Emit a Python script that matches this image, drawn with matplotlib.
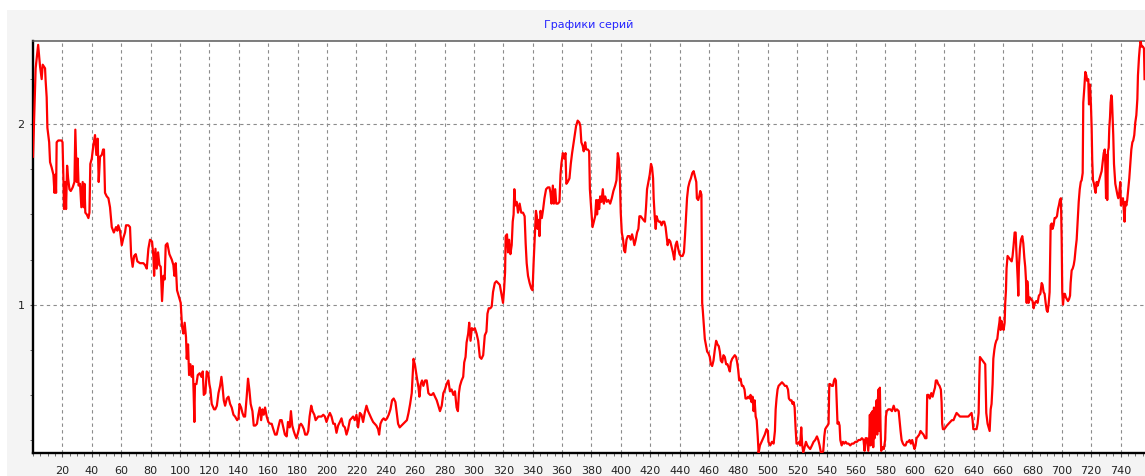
import numpy as np
import matplotlib
matplotlib.use("Agg")
import matplotlib.pyplot as plt
from matplotlib.patches import Rectangle
from matplotlib.ticker import MultipleLocator

# Werte, in Abschnitte geteilt
bars_a = [0, 1.8, 3.5, 4.8, 5.9, 6.6, 8.2, 8.6, 9.3, 9.8, 11, 11.6, 12.7, 13.9, 14.6, 15.2, 15.7, 16.1,
          17.2, 19.5, 20.1, 20.7, 21.1, 22, 22.5, 23.2, 23.9, 24.8, 25.7, 27, 28.2, 28.8, 29.8, 30.4,
          31, 32, 32.9, 33.8, 34.5, 35, 35.6, 36.6, 37.7, 38.4, 39, 40, 41, 42.2, 43.1, 44, 44.7, 45.6,
          46.8, 47.7, 48.3, 49, 50.2, 51.3, 52.4, 53.6, 55, 56.5, 57.4, 58, 59.2, 60.4, 61.5, 62.6, 63.3,
          64.9, 66, 66.8, 67.8, 68.8, 69.9, 71, 72.8, 75.1, 76.2, 77.4, 78.5, 79.6, 81, 81.9, 82.4, 83.3,
          84.2, 85.1, 86, 86.9, 87.8, 88.7, 89.6, 90.3, 91.4, 92.8, 94.4, 95.5, 96.2, 97.1, 98, 99.1,
          100.5, 101.4, 102.3, 103.2, 104.1, 104.6, 105.5, 106.2, 107.1, 108, 108.7, 109.3, 109.8, 110.2,
          111.2, 112.1, 113.4, 114.6, 115.5, 116.2, 117.3, 118.2, 119.3, 120, 120.7, 121.6, 123.2]
vals_a = [1.82, 2.31, 2.44, 2.32, 2.25, 2.33, 2.31, 2.24, 2.15, 1.98, 1.90, 1.79, 1.76, 1.72, 1.62, 1.72, 1.62, 1.90,
          1.91, 1.91, 1.90, 1.70, 1.53, 1.68, 1.53, 1.77, 1.70, 1.64, 1.63, 1.65, 1.68, 1.97, 1.68, 1.81,
          1.66, 1.67, 1.54, 1.68, 1.54, 1.67, 1.51, 1.50, 1.48, 1.51, 1.78, 1.81, 1.88, 1.94, 1.83, 1.92, 1.68, 1.82,
          1.83, 1.86, 1.86, 1.62, 1.60, 1.59, 1.54, 1.43, 1.40, 1.43, 1.41, 1.44, 1.41, 1.33, 1.37, 1.40, 1.44,
          1.44, 1.43, 1.27, 1.21, 1.27, 1.28, 1.24, 1.23, 1.23, 1.22, 1.20, 1.31, 1.36, 1.35, 1.27, 1.16, 1.31,
          1.20, 1.29, 1.22, 1.21, 1.02, 1.16, 1.14, 1.33, 1.34, 1.28, 1.25, 1.22, 1.16, 1.23, 1.08, 1.05,
          1.01, 0.88, 0.84, 0.90, 0.82, 0.70, 0.78, 0.61, 0.67, 0.60, 0.66, 0.51, 0.35, 0.56,
          0.56, 0.61, 0.62, 0.60, 0.63, 0.50, 0.51, 0.63, 0.62, 0.56, 0.53, 0.45, 0.42]

bars_b = [124, 125.1, 126.2, 127.3, 128.2, 128.9, 129.8, 130.7, 131.9, 133, 134.1, 135.2, 136.4, 137.5, 138.9,
          139.8, 140.5, 141.6, 142.5, 143.4, 144.3, 145.4, 146.3, 147.2, 148.1, 149.3, 150.2, 151.3, 152.4,
          153.3, 154.3, 155.2, 156.1, 157, 157.9, 159, 160.1, 161.3, 162.4, 163.5, 164.7, 165.8, 166.9, 168.1,
          169.2, 170.3, 171.4, 172.6, 173.5, 174.6, 175.5, 176.4, 177.4, 178.2, 179.2, 180.3, 181.4, 182.3,
          183.2, 184.3, 185.2, 186.4, 187.3, 188.2, 189.3, 190.2, 191.4, 192.3, 193.2, 194.1, 195.2, 196.3,
          197.5, 198.6, 199.7, 200.9, 202, 203.1, 204.3, 205.4, 206.5, 207.6, 208.8, 209.9, 211, 212.2, 213.3,
          214.4, 215.6, 216.7, 217.8, 218.9, 220.1, 221.2, 222.4, 223.5, 224.6, 225.7, 226.9, 228, 229.1,
          230.2, 231.4, 232.5, 233.6, 234.8, 235.5, 236.4, 237.5, 238.6, 239.8, 240.9, 242, 243.2, 244.3,
          245.4, 246.6, 247.5, 248.4, 249.5]
vals_b = [0.42, 0.44, 0.51, 0.55, 0.60, 0.55, 0.47, 0.44, 0.48, 0.49, 0.45, 0.43, 0.39, 0.38, 0.36,
          0.37, 0.45, 0.43, 0.40, 0.38, 0.38, 0.49, 0.59, 0.53, 0.45, 0.41, 0.33, 0.33, 0.34,
          0.39, 0.43, 0.36, 0.42, 0.39, 0.43, 0.38, 0.35, 0.34, 0.34, 0.31, 0.28, 0.28, 0.32, 0.36,
          0.36, 0.32, 0.28, 0.27, 0.35, 0.32, 0.41, 0.33, 0.30, 0.28, 0.26, 0.29, 0.33, 0.34,
          0.33, 0.31, 0.28, 0.28, 0.30, 0.38, 0.44, 0.41, 0.39, 0.36, 0.37, 0.38, 0.38, 0.38,
          0.39, 0.38, 0.35, 0.38, 0.40, 0.38, 0.34, 0.34, 0.29, 0.33, 0.35, 0.37, 0.33, 0.32, 0.28,
          0.31, 0.36, 0.37, 0.38, 0.36, 0.39, 0.32, 0.40, 0.39, 0.35, 0.40, 0.44, 0.41, 0.39,
          0.37, 0.35, 0.34, 0.33, 0.31, 0.28, 0.34, 0.36, 0.37, 0.36, 0.37, 0.39, 0.42, 0.47,
          0.48, 0.46, 0.40, 0.34, 0.32]

bars_c = [252, 254.4, 255.5, 256.6, 257.7, 258.9, 260, 261.1, 262.3, 262.9, 263.8, 264.7, 265.6, 266.8,
          267.9, 269, 270.2, 271.3, 272.4, 273.5, 274.7, 275.8, 276.9, 278.1, 279.2, 280.3, 281.4, 282.6,
          283.7, 284.8, 286, 287.1, 288.2, 289.1, 289.8, 290.5, 291.6, 292.7, 293.4, 294.3, 295, 296.1,
          296.8, 297.7, 298.6, 299.5, 300.6, 301.8, 302.9, 304, 305.1, 306.3, 307.4, 308.5, 309.2, 310.1,
          311.2, 312.1, 313, 314.2, 315.3, 316.4, 317.6, 318.5, 319.4, 319.8, 320.5, 321.2, 321.6, 322.5,
          323.2, 323.9, 324.8, 325.7, 326.4, 327, 327.5, 328.2, 329.1, 330, 331.1, 332.2, 333.4, 334.5,
          335.2, 335.9, 336.8, 337.9, 339, 339.9, 340.6, 341.5, 342.2, 342.8, 343.3, 344, 344.6, 345.3,
          346.2, 347.1, 348, 349.1, 350.3, 351.4, 352.1, 352.8, 353.7, 354.4, 355.3, 356, 357.1, 358.2,
          358.9, 359.5, 360.5, 361.4, 362.3, 362.9, 363.8, 365, 365.9, 366.8, 367.7, 368.6, 369.5, 370.6,
          371.7, 372.4, 373.1, 374, 374.7]
vals_c = [0.34, 0.36, 0.40, 0.45, 0.51, 0.70, 0.66, 0.60, 0.54, 0.49, 0.56, 0.58, 0.55, 0.58,
          0.58, 0.51, 0.50, 0.50, 0.51, 0.49, 0.47, 0.44, 0.41, 0.44, 0.51, 0.53, 0.56, 0.58,
          0.52, 0.53, 0.50, 0.52, 0.43, 0.41, 0.51, 0.55, 0.58, 0.60, 0.68, 0.71, 0.79, 0.84,
          0.90, 0.80, 0.87, 0.86, 0.87, 0.84, 0.80, 0.71, 0.70, 0.72, 0.83, 0.85, 0.95, 0.98,
          0.98, 0.99, 1.07, 1.12, 1.13, 1.12, 1.11, 1.07, 1.03, 1.01, 1.08, 1.18, 1.38, 1.39,
          1.29, 1.36, 1.28, 1.33, 1.46, 1.50, 1.64, 1.55, 1.57, 1.51, 1.56, 1.51, 1.51, 1.49,
          1.34, 1.23, 1.16, 1.12, 1.09, 1.08, 1.23, 1.40, 1.52, 1.49, 1.42, 1.47, 1.38, 1.52,
          1.48, 1.53, 1.59, 1.64, 1.65, 1.65, 1.62, 1.56, 1.66, 1.56, 1.64, 1.56, 1.56, 1.57,
          1.72, 1.78, 1.84, 1.81, 1.84, 1.67, 1.68, 1.70, 1.78, 1.84, 1.89, 1.94, 1.99, 2.02,
          2.01, 1.99, 1.90, 1.88, 1.85]

bars_d = [375.7, 376.4, 377.5, 378.4, 378.9, 379.8, 380.7, 381.6, 382.5, 383.2, 383.8, 384.5, 385.2, 385.9,
          386.8, 387.7, 388.4, 389.3, 390.4, 391.5, 392.7, 393.8, 394.9, 396.1, 397, 397.9, 398.6, 399.3,
          399.9, 400.6, 401.5, 402.2, 402.9, 403.8, 404.7, 405.8, 406.7, 407.6, 408.5, 409.2, 410.1, 411,
          411.9, 412.6, 413.5, 414.4, 415.3, 416.4, 417.1, 417.8, 418.7, 419.6, 420.5, 421.2, 421.9, 422.3,
          423, 423.7, 424.3, 425, 425.9, 426.8, 427.7, 428.6, 429.5, 430.4, 431.1, 431.8, 432.7, 433.6,
          434.5, 435.4, 436.3, 437.2, 438.1, 439, 439.9, 440.8, 442, 442.9, 443.6, 444.3, 445, 445.8,
          446.7, 447.6, 448.6, 449.5, 450.4, 451.3, 451.7, 452.6, 453.3, 454, 454.8, 455.3, 455.7, 456.5,
          457.1, 458, 458.7, 459.6, 460.5, 461.2, 462.1, 463, 463.9, 464.8, 465.7, 466.6, 467.3, 468,
          468.9, 469.8, 470.7, 471.6, 472.5, 473.4, 474.1, 474.8, 475.7, 476.6, 477.5, 478.4, 479.1,
          479.8, 480.5, 481.4, 482.3, 483.2, 484.1, 484.8, 485.7, 486.6, 487.6, 488.2, 488.9, 489.6,
          490.3, 491, 491.7, 492.4, 493.1, 493.7, 494.6, 495.7, 496.8, 497.9, 499.1, 500, 500.4]
vals_d = [1.90, 1.86, 1.86, 1.85, 1.64, 1.53, 1.43, 1.46, 1.49, 1.58, 1.50, 1.58, 1.53, 1.60,
          1.57, 1.64, 1.56, 1.60, 1.57, 1.58, 1.56, 1.59, 1.63, 1.66, 1.69, 1.84, 1.81, 1.70,
          1.51, 1.40, 1.36, 1.30, 1.29, 1.36, 1.38, 1.38, 1.36, 1.39, 1.36, 1.33, 1.36, 1.40,
          1.42, 1.49, 1.49, 1.48, 1.47, 1.46, 1.54, 1.64, 1.68, 1.72, 1.78, 1.76, 1.70, 1.59,
          1.49, 1.42, 1.49, 1.47, 1.46, 1.46, 1.44, 1.46, 1.46, 1.43, 1.38, 1.33, 1.36, 1.35,
          1.32, 1.29, 1.25, 1.33, 1.35, 1.31, 1.28, 1.27, 1.27, 1.29, 1.38, 1.49, 1.59, 1.65,
          1.68, 1.70, 1.73, 1.74, 1.71, 1.68, 1.59, 1.58, 1.60, 1.63, 1.61, 1.01, 0.97, 0.88,
          0.81, 0.77, 0.74, 0.73, 0.71, 0.67, 0.66, 0.69, 0.75, 0.80, 0.78, 0.77, 0.74, 0.69,
          0.68, 0.72, 0.71, 0.67, 0.67, 0.65, 0.63, 0.68, 0.70, 0.71, 0.72, 0.71, 0.68,
          0.64, 0.58, 0.59, 0.55, 0.55, 0.53, 0.48, 0.48, 0.49, 0.48, 0.50, 0.46, 0.49,
          0.41, 0.47, 0.38, 0.36, 0.27, 0.18, 0.22, 0.24, 0.26, 0.28, 0.31, 0.30, 0.24]

bars_e = [501.6, 502.8, 503.9, 504.8, 505.3, 505.9, 506.6, 507.3, 508.4, 509.6, 510.7, 511.6, 512.7, 513.7,
          514.3, 515.2, 516.1, 516.8, 517.5, 518.2, 518.9, 519.5, 520.5, 521.4, 522, 522.7, 523.4, 524.1,
          525, 525.9, 526.8, 527.7, 528.8, 530, 531.1, 532.2, 533.4, 534.3, 535.2, 536.1, 537, 537.7, 538.4,
          539, 539.7, 540.6, 541.3, 541.8, 542.4, 543.4, 544.3, 545, 545.6, 546.3, 546.8, 547.4, 548.1,
          548.8, 549.3, 550.2, 551.1, 552, 552.9, 553.8, 554.9, 556, 557.2, 558.3, 559.5, 560.6, 561.7,
          562.9, 564, 565.1, 565.8, 566.5, 567.4, 568.3, 569, 569.4, 569.9, 570.3, 570.8, 571.2, 571.7,
          572.2, 572.6, 573.1, 573.5, 574, 574.4, 574.9, 575.3, 575.8, 576.2, 576.7, 577.1, 578, 578.9,
          579.8, 580.3, 580.9, 582, 583.3, 584.4, 585.6, 586.7, 587.8, 589, 589.6, 590.3, 591, 591.9,
          592.8, 593.7, 594.6, 595.5, 596.4, 597.3, 598.2, 599.1, 599.8, 600.5, 601.2, 602.1, 603, 603.9,
          604.8, 605.9, 607, 607.9, 608.4, 609.3, 610.2, 611.2, 612.1, 613, 613.7, 614.3, 615, 615.9,
          616.8, 617.7, 618.2, 618.6, 619.1, 620, 620.9, 621.8, 622.9, 624.1, 625.2, 626.3]
vals_e = [0.22, 0.24, 0.23, 0.30, 0.42, 0.48, 0.53, 0.55, 0.56, 0.57, 0.56, 0.55, 0.55, 0.53,
          0.48, 0.47, 0.47, 0.45, 0.46, 0.43, 0.31, 0.23, 0.23, 0.24, 0.22, 0.32, 0.22, 0.18,
          0.21, 0.24, 0.22, 0.21, 0.20, 0.22, 0.24, 0.25, 0.27, 0.25, 0.22, 0.18, 0.18, 0.19, 0.27,
          0.31, 0.32, 0.33, 0.34, 0.56, 0.56, 0.55, 0.55, 0.58, 0.59, 0.58, 0.47, 0.34, 0.35,
          0.33, 0.25, 0.22, 0.24, 0.23, 0.24, 0.23, 0.23, 0.22, 0.23, 0.23, 0.24, 0.24, 0.25,
          0.25, 0.26, 0.25, 0.19, 0.26, 0.26, 0.19, 0.27, 0.39, 0.22, 0.40, 0.27, 0.41, 0.21,
          0.43, 0.26, 0.41, 0.30, 0.47, 0.28, 0.48, 0.53, 0.30, 0.54, 0.31, 0.19, 0.21, 0.20,
          0.25, 0.38, 0.41, 0.42, 0.42, 0.41, 0.44, 0.41, 0.42, 0.41, 0.36, 0.30, 0.25, 0.23,
          0.22, 0.22, 0.24, 0.24, 0.25, 0.23, 0.25, 0.22, 0.20, 0.22, 0.26, 0.27, 0.28, 0.30,
          0.29, 0.28, 0.26, 0.26, 0.50, 0.50, 0.48, 0.51, 0.49, 0.52, 0.54, 0.58, 0.58, 0.56,
          0.55, 0.53, 0.46, 0.34, 0.31, 0.31, 0.32, 0.33, 0.34, 0.35, 0.36, 0.36]

bars_f = [627.3, 628.4, 629.6, 630.7, 631.8, 632.9, 634.1, 635.2, 636.4, 637.5, 638.6, 639.3, 639.8, 640.9,
          642, 642.7, 643.4, 643.9, 644.3, 645.2, 646.1, 647, 647.9, 648.6, 649.5, 650.2, 650.9, 651.6,
          652.2, 652.9, 653.4, 654.1, 654.7, 655.4, 656.1, 656.8, 657.5, 657.9, 658.4, 659, 659.7, 660.4,
          661.1, 661.5, 662, 662.4, 663.1, 664, 664.9, 665.9, 666.5, 667.2, 667.9, 668.6, 669, 669.5, 670,
          670.4, 670.8, 671.5, 672.2, 673.1, 673.8, 674.5, 675.1, 675.6, 676.1, 676.5, 677, 677.4, 678.3,
          679.2, 680.1, 680.8, 681.7, 682.6, 683.5, 684.4, 685.4, 686.3, 686.9, 687.6, 688.3, 689, 689.7,
          690.3, 691, 691.7, 692.4, 693.1, 693.7, 694.4, 695.1, 695.8, 696.7, 697.4, 698, 698.7, 699.4,
          699.9, 700.3, 700.8, 701.5, 702.1, 702.8, 703.5, 704.2, 704.9, 705.6, 706, 706.7, 707.4, 708.1,
          708.7, 709.4, 710.1, 710.8, 711.5, 712.2, 712.9, 713.5, 714.2, 714.6, 715.3, 716, 716.7, 717.3,
          718, 718.5, 719.2, 719.8, 720.3, 720.7, 721.2, 721.9, 722.5, 723, 723.7, 724.4, 725, 725.7,
          726.4, 727.1, 727.8, 728.5, 729.2, 729.6, 730.1, 730.5, 730.9, 731.4, 731.9, 732.3, 732.8, 733.2,
          733.7, 734.1, 734.6, 735, 735.5, 735.9, 736.4, 737.1, 737.8, 738.4, 739.1, 739.8, 740.2, 740.9,
          741.6, 742.2, 742.7, 743.2, 743.9, 744.5, 745.2, 745.9, 746.6, 747.3, 748, 748.6, 749.3, 750,
          750.7, 751.4, 751.8, 752.5, 753, 753.6, 754.3, 755.2, 755.9, 756.3]
vals_f = [0.38, 0.40, 0.39, 0.38, 0.38, 0.38, 0.38, 0.38, 0.38, 0.39, 0.40, 0.36, 0.31, 0.31,
          0.31, 0.34, 0.40, 0.60, 0.71, 0.70, 0.69, 0.68, 0.67, 0.40, 0.34, 0.32, 0.30, 0.42,
          0.45, 0.56, 0.70, 0.75, 0.78, 0.80, 0.81, 0.86, 0.90, 0.93, 0.86, 0.91, 0.87, 0.86,
          0.90, 1.01, 1.08, 1.20, 1.27, 1.26, 1.25, 1.24, 1.27, 1.33, 1.40, 1.40, 1.31, 1.23, 1.14,
          1.05, 1.21, 1.31, 1.36, 1.38, 1.34, 1.26, 1.21, 1.14, 1.01, 1.13, 1.08, 1.01, 1.04,
          1.03, 1.02, 0.98, 1.01, 1.02, 1.01, 1.05, 1.06, 1.12, 1.11, 1.07, 1.06, 1.01, 0.97,
          0.96, 1.00, 1.07, 1.44, 1.45, 1.42, 1.44, 1.48, 1.48, 1.49, 1.53, 1.55, 1.58, 1.59,
          1.36, 1.07, 1.00, 1.06, 1.06, 1.04, 1.03, 1.02, 1.03, 1.05, 1.12, 1.19, 1.20, 1.22,
          1.25, 1.31, 1.36, 1.47, 1.57, 1.64, 1.68, 1.69, 1.73, 2.12, 2.20, 2.29, 2.27, 2.24,
          2.25, 2.11, 2.22, 2.11, 1.98, 1.80, 1.69, 1.67, 1.64, 1.62, 1.68, 1.66, 1.68, 1.70,
          1.72, 1.74, 1.79, 1.84, 1.86, 1.78, 1.59, 1.83, 1.58, 1.85, 1.87, 1.98, 2.04, 2.12,
          2.16, 2.14, 2.02, 1.94, 1.78, 1.73, 1.67, 1.64, 1.61, 1.59, 1.62, 1.68, 1.55, 1.57,
          1.59, 1.52, 1.46, 1.57, 1.55, 1.58, 1.64, 1.70, 1.78, 1.86, 1.90, 1.91, 1.94, 2.01,
          2.05, 2.14, 2.27, 2.37, 2.42, 2.46, 2.43, 2.43, 2.42, 2.25]

x_ticks = list(range(20, 741, 20))
y_ticks = [1, 2]
title = "Графики серий"

bars = np.concatenate([bars_a, bars_b, bars_c, bars_d, bars_e, bars_f])
vals = np.concatenate([vals_a, vals_b, vals_c, vals_d, vals_e, vals_f])

W, H = 1145, 476
fig = plt.figure(figsize=(W / 100, H / 100), dpi=100, facecolor="white")
# grauer Hintergrund wie im Original (hinter den Achsen)
fig.patches.append(Rectangle((7 / W, 0), 1, 1 - 10 / H, transform=fig.transFigure,
                             facecolor="#f4f4f4", edgecolor="none", zorder=-5))

ax = fig.add_axes([33 / W, 23 / H, 1 - 33 / W, (453 - 40.7) / H])
ax.set_facecolor("white")
ax.plot(bars, vals, color="#ff0000", lw=1.6, zorder=3, clip_on=True)

ax.set_xlim(0, 756.6)
ax.set_ylim(0.178, 2.463)
ax.set_xticks(x_ticks)
ax.set_yticks(y_ticks)
ax.xaxis.set_minor_locator(MultipleLocator(5))
ax.yaxis.set_minor_locator(MultipleLocator(0.25))

ax.grid(True, which="major", color="#8c8c8c", lw=0.8, linestyle=(0, (3, 3)))
ax.tick_params(axis="x", which="major", length=3, pad=6, labelsize=8, colors="#555555",
               labelcolor="#222222")
ax.tick_params(axis="x", which="minor", length=2.5, colors="#555555")
ax.tick_params(axis="y", which="major", length=2, pad=4, labelsize=8, colors="#555555",
               labelcolor="#222222")
ax.tick_params(axis="y", which="minor", length=2, colors="#555555")

ax.spines["left"].set_linewidth(1.7)
ax.spines["left"].set_color("black")
ax.spines["bottom"].set_linewidth(1.7)
ax.spines["bottom"].set_color("black")
ax.spines["top"].set_linewidth(1.1)
ax.spines["top"].set_color("#5a5a5a")
ax.spines["right"].set_visible(False)

fig.text((33 + W) / 2 / W, 1 - 25 / H, title, color="#2424ff", fontsize=8,
         ha="center", va="center")

fig.savefig("out.png", dpi=100)
